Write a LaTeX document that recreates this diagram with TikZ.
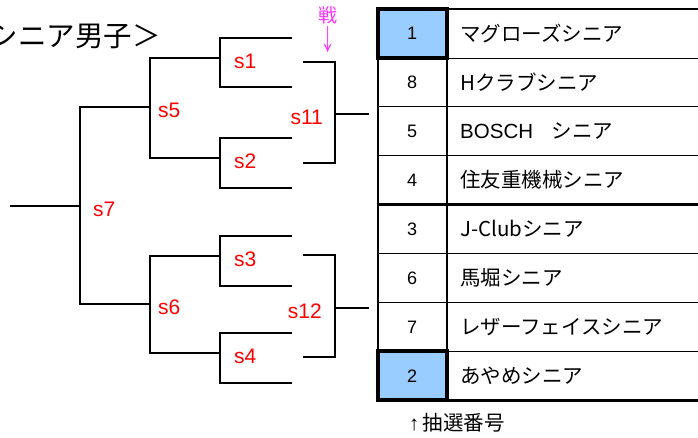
\documentclass[tikz,border=0pt]{standalone}
\usepackage{fontspec}
\setmainfont{Liberation Sans}
\newfontfamily\jpfont{Noto Sans CJK JP}
\usepackage{tikz}
\usetikzlibrary{positioning}
\definecolor{seedblue}{HTML}{99CCFF}
\definecolor{senpink}{HTML}{FF33FF}

\begin{document}
\begin{tikzpicture}
    [ x=1pt, y=-1pt
    , bracket/.style={line width=1.6pt}
    , roundlab/.style={text=red, inner sep=0pt, yshift=-3pt, font=\fontsize{21}{24}\selectfont}
    , numcell/.style={inner sep=0pt, font=\fontsize{18}{20}\selectfont}
    , team/.style={inner sep=0pt, anchor=west, font=\jpfont\fontsize{20.5}{24}\selectfont}
    , senlab/.style={text=senpink, inner sep=0pt, font=\jpfont\fontsize{19}{22}\selectfont}
    , seedcell/.style={fill=seedblue, line width=3.5pt}
    , rowline/.style={line width=0.8pt}
    , boldline/.style={line width=2.6pt}
    ]
\useasboundingbox (0,0) rectangle (698,437);
\clip (0,0) rectangle (698,437);

\node[anchor=east, inner sep=0pt, font=\jpfont\fontsize{28.5}{32}\selectfont] (title) at (161,36) {＜シニア男子＞};

\foreach \k/\y in {1/38, 2/87, 3/138, 4/188, 5/236, 6/286, 7/333, 8/383}
  \coordinate (a\k) at (292,\y);
\coordinate (m1) at (220,58);
\coordinate (m2) at (220,158);
\coordinate (m3) at (220,256);
\coordinate (m4) at (220,353);
\coordinate (m5) at (150,107);
\coordinate (m6) at (150,304);
\coordinate (m7) at (80,206);
\coordinate (root) at (10,206);
\coordinate (b1) at (303,62);
\coordinate (b2) at (303,163);
\coordinate (b3) at (303,255);
\coordinate (b4) at (303,357);
\coordinate (m11) at (335,114);
\coordinate (m12) at (335,308);
\coordinate (e11) at (369,114);
\coordinate (e12) at (369,308);

\draw[bracket] (a1) -| (m1) |- (a2);
\draw[bracket] (a3) -| (m2) |- (a4);
\draw[bracket] (a5) -| (m3) |- (a6);
\draw[bracket] (a7) -| (m4) |- (a8);
\draw[bracket] (m1) -| (m5) |- (m2);
\draw[bracket] (m3) -| (m6) |- (m4);
\draw[bracket] (m5) -| (m7) |- (m6);
\draw[bracket] (root) -- (m7);
\draw[bracket] (b1) -| (m11) |- (b2);
\draw[bracket] (b3) -| (m12) |- (b4);
\draw[bracket] (m11) -- (e11);
\draw[bracket] (m12) -- (e12);

\node[roundlab, right=14pt of m1] (s1) {s1};
\node[roundlab, right=14pt of m2] (s2) {s2};
\node[roundlab, right=14pt of m3] (s3) {s3};
\node[roundlab, right=14pt of m4] (s4) {s4};
\node[roundlab, right=8pt of m5] (s5) {s5};
\node[roundlab, right=8pt of m6] (s6) {s6};
\node[roundlab, right=13pt of m7] (s7) {s7};
\node[roundlab, left=12pt of m11] (s11) {s11};
\node[roundlab, left=13pt of m12] (s12) {s12};

\node[senlab] (sen) at (328,15) {戦};
\node[senlab, below=2pt of sen] (sendown) {\scalebox{0.8}[1.5]{↓}};

\fill[seedblue] (378,9) rectangle (447,58);
\fill[seedblue] (378,351) rectangle (447,400);
\foreach \i in {1,2,3,5,6,7}
  \draw[rowline] (378,9+48.9*\i) -- (698,9+48.9*\i);
\foreach \i in {0,4,8}
  \draw[boldline] (377,9+48.9*\i) -- (698,9+48.9*\i);
\draw[boldline] (378,9) -- (378,400) (447,9) -- (447,400);
\draw[seedcell] (378,9) rectangle (447,58);
\draw[seedcell] (378,351) rectangle (447,400);

\foreach \i/\num/\name in {0/1/マグローズシニア, 1/8/Hクラブシニア, 2/5/{\rmfamily BOSCH}\hspace{0.9em}シニア, 3/4/住友重機械シニア, 4/3/J-Clubシニア, 5/6/馬堀シニア, 6/7/レザーフェイスシニア, 7/2/あやめシニア}
{
  \node[numcell] (n\num) at (412,33.5+48.9*\i) {\num};
  \node[team] (t\num) at (460,33.5+48.9*\i) {\name};
}

\node[team] (note) at (409,423) {{\rmfamily ↑}\,抽選番号};
\end{tikzpicture}
\end{document}
